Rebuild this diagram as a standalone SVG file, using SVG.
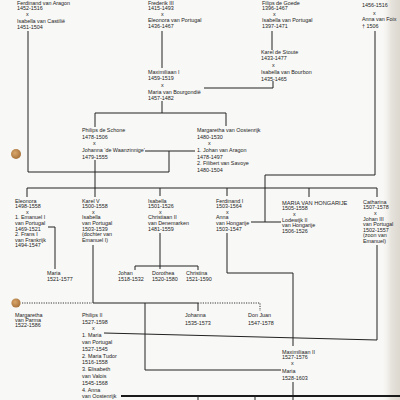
<svg xmlns="http://www.w3.org/2000/svg" width="400" height="400" viewBox="0 0 400 400">
<defs>
<style>
.t{font-family:"Liberation Sans",Arial,sans-serif;font-size:5.4px;fill:#1c1c1c}
.c{font-size:5.7px}
.l{fill:none;stroke:#222;stroke-width:1}
.d{fill:none;stroke:#222;stroke-width:0.9;stroke-dasharray:1.2 1.2}
.k{fill:none;stroke:#1a1a1a;stroke-width:1.8}
</style>
<linearGradient id="edge" x1="0" y1="0" x2="1" y2="0">
<stop offset="0" stop-color="#f6f5f2" stop-opacity="0"/>
<stop offset="0.5" stop-color="#e6e3dc"/>
<stop offset="1" stop-color="#dcd8d0"/>
</linearGradient>
<radialGradient id="coin" cx="0.4" cy="0.4" r="0.6">
<stop offset="0" stop-color="#d9a66a"/>
<stop offset="1" stop-color="#a8743c"/>
</radialGradient>
</defs>
<rect width="400" height="400" fill="#f8f8f6"/>
<rect x="382" y="0" width="18" height="400" fill="url(#edge)"/>
<circle cx="16" cy="154" r="5" fill="url(#coin)"/>
<circle cx="16" cy="303" r="4.6" fill="url(#coin)"/>

<g id="connectors">
<path class="l" d="M28 31 V172 H169 V151"/>
<path class="l" d="M145 151 H195"/>
<path class="l" d="M162 31 V68"/>
<path class="l" d="M272 31 V50"/>
<path class="l" d="M204 88 H273 V81"/>
<path class="l" d="M162 101 V113"/>
<path class="l" d="M95 127 V113 H226 V126"/>
<path class="l" d="M95 160 V197"/>
<path class="l" d="M27 197 V188 H377 V197"/>
<path class="l" d="M160 188 V196 M227 188 V196 M309 188 V197"/>
<path class="l" d="M375 31 V175 H265 V222"/>
<path class="l" d="M251 222 H281"/>
<path class="l" d="M48 227 H55 V269"/>
<path class="l" d="M160 233 V269"/>
<path class="l" d="M135 270 V266 H198 V270"/>
<path class="l" d="M227 233 V273 H293 V346"/>
<path class="l" d="M93 245 V303 H198 V311"/>
<path class="l" d="M145 303 V370 H281"/>
<path class="d" d="M22 303 H92"/>
<path class="d" d="M198 303 H260 V311"/>
<path class="l" d="M104 333 L377 340 V245"/>
<path class="l" d="M293 382 V400"/>
<path class="k" d="M121 396 H400"/>
<path class="l" d="M198 396 V400 M255 396 V400"/>
</g>

<g id="ferdinand-isabella">
<text class="t" x="17" y="4.5">Ferdinand van Aragon</text>
<text class="t" x="17" y="10.1">1452-1516</text>
<text class="t" x="26" y="16">x</text>
<text class="t" x="17" y="22.5">Isabella van Castilië</text>
<text class="t" x="17" y="28.5">1451-1504</text>
</g>
<g id="frederik-eleonora">
<text class="t" x="148" y="4.5">Frederik III</text>
<text class="t" x="148" y="10.1">1415-1493</text>
<text class="t" x="161" y="16">x</text>
<text class="t" x="148" y="22.2">Eleonora van Portugal</text>
<text class="t" x="148" y="28.2">1436-1467</text>
</g>
<g id="filips-isabella">
<text class="t" x="262" y="4.5">Filips de Goede</text>
<text class="t" x="262" y="10.1">1396-1467</text>
<text class="t" x="273" y="16">x</text>
<text class="t" x="262" y="22.2">Isabella van Portugal</text>
<text class="t" x="262" y="28.2">1397-1471</text>
</g>
<g id="wladislaus-anna">
<text class="t" x="362" y="7.4">1456-1516</text>
<text class="t" x="373" y="14.5">x</text>
<text class="t" x="362" y="21.2">Anna van Foix</text>
<text class="t" x="362" y="27.6">† 1506</text>
</g>
<g id="karel-isabella">
<text class="t" x="261" y="53.5">Karel de Stoute</text>
<text class="t" x="261" y="60.3">1433-1477</text>
<text class="t" x="272" y="67">x</text>
<text class="t" x="261" y="73.8">Isabella van Bourbon</text>
<text class="t" x="261" y="80.6">1435-1465</text>
</g>
<g id="maximiliaan-maria">
<text class="t" x="148" y="73.8">Maximiliaan I</text>
<text class="t" x="148" y="80.4">1459-1519</text>
<text class="t" x="161" y="87">x</text>
<text class="t" x="148" y="93.6">Maria van Bourgondië</text>
<text class="t" x="148" y="100.2">1457-1482</text>
</g>
<g id="philips-johanna">
<text class="t" x="82" y="131.8">Philips de Schone</text>
<text class="t" x="82" y="138.5">1478-1506</text>
<text class="t" x="93" y="145">x</text>
<text class="t" x="82" y="151.8">Johanna ‘de Waanzinnige’</text>
<text class="t" x="82" y="158.5">1479-1555</text>
</g>
<g id="margaretha">
<text class="t" x="197" y="131.8">Margaretha van Oostenrijk</text>
<text class="t" x="197" y="138.5">1480-1530</text>
<text class="t" x="208" y="145">x</text>
<text class="t" x="197" y="151.8">1. Johan van Aragon</text>
<text class="t" x="197" y="158.5">1478-1497</text>
<text class="t" x="197" y="165.2">2. Filibert van Savoye</text>
<text class="t" x="197" y="171.9">1480-1504</text>
</g>
<g id="eleonora">
<text class="t" x="15" y="202.6">Eleonora</text>
<text class="t" x="15" y="208.2">1498-1558</text>
<text class="t" x="26" y="213.8">x</text>
<text class="t" x="15" y="219.4">1. Emanuel I</text>
<text class="t" x="15" y="225">van Portugal</text>
<text class="t" x="15" y="230.6">1469-1521</text>
<text class="t" x="15" y="236.2">2. Frans I</text>
<text class="t" x="15" y="241.8">van Frankrijk</text>
<text class="t" x="15" y="247.4">1494-1547</text>
</g>
<g id="karel-v">
<text class="t" x="82" y="202.6">Karel V</text>
<text class="t" x="82" y="208.2">1500-1558</text>
<text class="t" x="92" y="213.8">x</text>
<text class="t" x="82" y="219.4">Isabella</text>
<text class="t" x="82" y="225">van Portugal</text>
<text class="t" x="82" y="230.6">1503-1539</text>
<text class="t" x="82" y="236.2">(dochter van</text>
<text class="t" x="82" y="241.8">Emanuel I)</text>
</g>
<g id="isabella">
<text class="t" x="148" y="202.6">Isabella</text>
<text class="t" x="148" y="208.2">1501-1526</text>
<text class="t" x="159" y="213.8">x</text>
<text class="t" x="148" y="219.4">Christiaan II</text>
<text class="t" x="148" y="225">van Denemarken</text>
<text class="t" x="148" y="230.6">1481-1559</text>
</g>
<g id="ferdinand-i">
<text class="t" x="216" y="202.6">Ferdinand I</text>
<text class="t" x="216" y="208.2">1503-1564</text>
<text class="t" x="226" y="213.8">x</text>
<text class="t" x="216" y="219.4">Anna</text>
<text class="t" x="216" y="225">van Hongarije</text>
<text class="t" x="216" y="230.6">1503-1547</text>
</g>
<g id="maria-hongarije">
<text class="t c" x="282" y="204.5">MARIA VAN HONGARIJE</text>
<text class="t" x="282" y="210.2">1505-1558</text>
<text class="t" x="293" y="215.8">x</text>
<text class="t" x="282" y="221.5">Lodewijk II</text>
<text class="t" x="282" y="227">van Hongarije</text>
<text class="t" x="282" y="232.5">1506-1526</text>
</g>
<g id="catharina">
<text class="t" x="363" y="203.8">Catharina</text>
<text class="t" x="363" y="209.4">1507-1578</text>
<text class="t" x="374" y="215">x</text>
<text class="t" x="363" y="220.6">Johan III</text>
<text class="t" x="363" y="226.2">van Portugal</text>
<text class="t" x="363" y="231.8">1502-1557</text>
<text class="t" x="363" y="237.4">(zoon van</text>
<text class="t" x="363" y="243">Emanuel)</text>
</g>
<g id="maria-1521">
<text class="t" x="47" y="275">Maria</text>
<text class="t" x="47" y="281">1521-1577</text>
</g>
<g id="johan">
<text class="t" x="118" y="275">Johan</text>
<text class="t" x="118" y="281">1518-1532</text>
</g>
<g id="dorothea">
<text class="t" x="152" y="275">Dorothea</text>
<text class="t" x="152" y="281">1520-1580</text>
</g>
<g id="christina">
<text class="t" x="186" y="275">Christina</text>
<text class="t" x="186" y="281">1521-1590</text>
</g>
<g id="margaretha-parma">
<text class="t" x="15" y="316.8">Margaretha</text>
<text class="t" x="15" y="321.8">van Parma</text>
<text class="t" x="15" y="326.8">1522-1586</text>
</g>
<g id="philips-ii">
<text class="t" x="82" y="316.8">Philips II</text>
<text class="t" x="82" y="323.6">1527-1598</text>
<text class="t" x="92" y="330.4">x</text>
<text class="t" x="82" y="337.2">1. Maria</text>
<text class="t" x="82" y="344">van Portugal</text>
<text class="t" x="82" y="350.8">1527-1545</text>
<text class="t" x="82" y="357.6">2. Maria Tudor</text>
<text class="t" x="82" y="364.4">1516-1558</text>
<text class="t" x="82" y="371.2">3. Elisabeth</text>
<text class="t" x="82" y="378">van Valois</text>
<text class="t" x="82" y="384.8">1545-1568</text>
<text class="t" x="82" y="391.6">4. Anna</text>
<text class="t" x="82" y="398.4">van Oostenrijk</text>
</g>
<g id="johanna">
<text class="t" x="185" y="316.8">Johanna</text>
<text class="t" x="185" y="324.5">1535-1573</text>
</g>
<g id="don-juan">
<text class="t" x="248" y="316.8">Don Juan</text>
<text class="t" x="248" y="324.5">1547-1578</text>
</g>
<g id="maximiliaan-ii">
<text class="t" x="282" y="353.8">Maximiliaan II</text>
<text class="t" x="282" y="359.2">1527-1576</text>
<text class="t" x="291" y="364.8">x</text>
<text class="t" x="282" y="372.8">Maria</text>
<text class="t" x="282" y="379.8">1528-1603</text>
</g>
</svg>
